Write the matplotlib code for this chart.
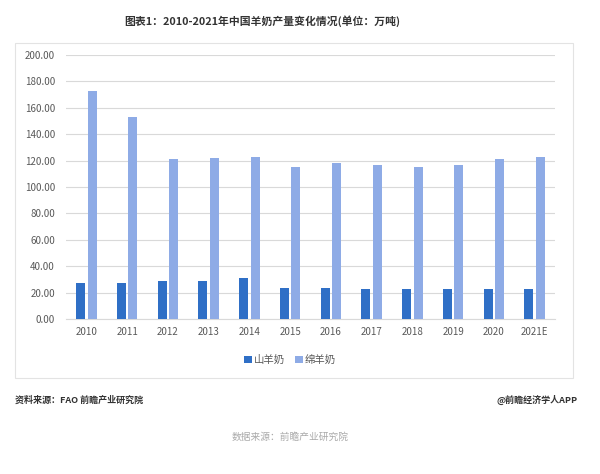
import matplotlib
matplotlib.use("Agg")
import matplotlib.pyplot as plt
from matplotlib.patches import Rectangle
import numpy as np

plt.rcParams['font.family'] = ['Noto Sans CJK SC', 'DejaVu Sans']

years = ['2010', '2011', '2012', '2013', '2014', '2015', '2016', '2017', '2018', '2019', '2020', '2021E']
goat_milk = [27.1, 27.6, 28.6, 29.1, 31.2, 23.8, 23.8, 23.0, 22.5, 23.0, 22.5, 23.0]
sheep_milk = [172.4, 153.4, 121.0, 121.7, 122.5, 115.3, 117.9, 116.6, 115.3, 116.6, 121.4, 122.7]
yticks = np.arange(0, 201, 20)

dark = '#2F6FC6'
light = '#8EABE6'

fig = plt.figure(figsize=(6.0, 4.74), dpi=100)
ax = fig.add_axes([66/600, 1-319/474, (555-66)/600, (319-55)/474])

x = np.arange(len(years))
w = 0.22
ax.bar(x - 0.14, goat_milk, width=w, color=dark, label='山羊奶', zorder=3)
ax.bar(x + 0.14, sheep_milk, width=w, color=light, label='绵羊奶', zorder=3)

ax.set_xlim(-0.5, len(years) - 0.5)
ax.set_ylim(0, 200)
ax.set_yticks(yticks)
ax.set_yticklabels([f'{v:.2f}' for v in yticks], fontsize=7, color='#595959')
ax.set_xticks(x)
ax.set_xticklabels(years, fontsize=7, color='#595959')
ax.tick_params(axis='y', length=0, pad=8)
ax.tick_params(axis='x', length=0, pad=6)
ax.grid(axis='y', color='#D9D9D9', linewidth=0.8, zorder=0)
for s in ['top', 'right', 'left']:
    ax.spines[s].set_visible(False)
ax.spines['bottom'].set_color('#D9D9D9')
ax.spines['bottom'].set_linewidth(0.8)

# chart border
fig.patches.append(Rectangle((15/600, 1-378/474), (573-15)/600, (378-43)/474,
                             transform=fig.transFigure, fill=False,
                             edgecolor='#E3E3E3', linewidth=0.8))

leg = fig.legend(loc='center', bbox_to_anchor=(290/600, 1-360/474), ncol=2,
                 frameon=False, fontsize=7.5, handlelength=0.7, handleheight=0.7,
                 handletextpad=0.2, columnspacing=1.0)
for t in leg.get_texts():
    t.set_color('#595959')

fig.text(262/600, 1-21/474, '图表1：2010-2021年中国羊奶产量变化情况(单位：万吨)',
         ha='center', va='center', fontsize=7.8, fontweight='bold', color='#333333')
fig.text(15/600, 1-400/474, '资料来源：FAO 前瞻产业研究院', ha='left', va='center',
         fontsize=6.5, fontweight='bold', color='#333333')
fig.text(578/600, 1-400/474, '@前瞻经济学人APP', ha='right', va='center',
         fontsize=6.5, fontweight='bold', color='#333333')
fig.text(290/600, 1-437/474, '数据来源：前瞻产业研究院', ha='center', va='center',
         fontsize=7, color='#AAAAAA')

fig.savefig('out.png', dpi=100)
